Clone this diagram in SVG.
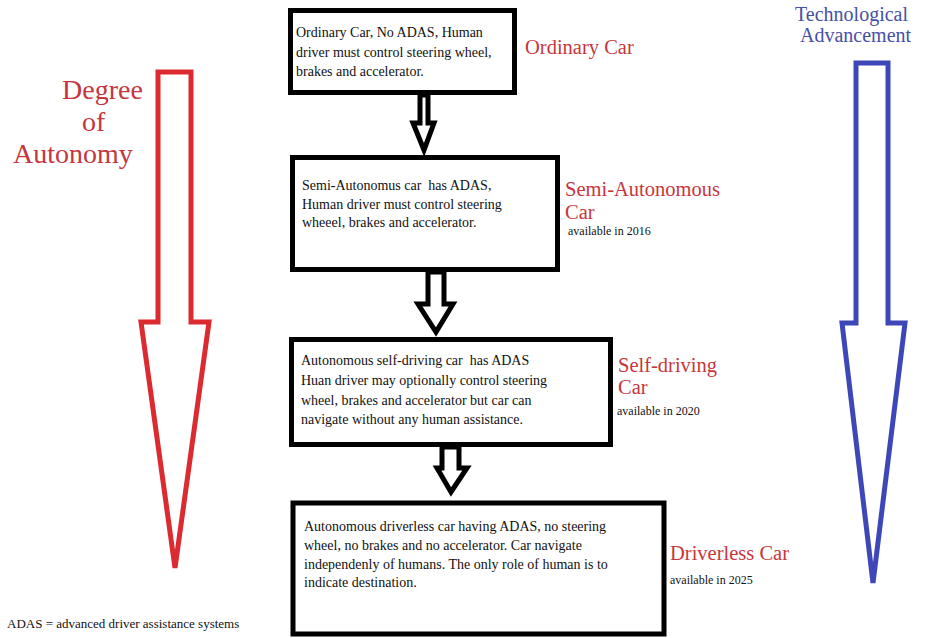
<svg xmlns="http://www.w3.org/2000/svg" width="933" height="638" viewBox="0 0 933 638">
<style>
.box{fill:#fff;stroke:#000;stroke-width:5}
.t{font-family:"Liberation Serif","Times New Roman",serif;font-size:14px;fill:#111}
.lbl{font-family:"Liberation Serif","Times New Roman",serif;font-size:20.5px;fill:#c6363c}
.sm{font-family:"Liberation Serif","Times New Roman",serif;font-size:12px;fill:#111}
.conn{fill:#fff;stroke:#000;stroke-width:5;stroke-linejoin:miter}
</style>
<rect width="933" height="638" fill="#fff"/>
<g id="degree-arrow">
<polygon points="158,72 191,72 191,322 209,322 175,568 141,322 158,322" fill="none" stroke="#dc2a31" stroke-width="5"/>
<text x="62" y="99" font-family="Liberation Serif,serif" font-size="28" fill="#c6363c">Degree</text>
<text x="82" y="131" font-family="Liberation Serif,serif" font-size="28" fill="#c6363c">of</text>
<text x="13" y="163" font-family="Liberation Serif,serif" font-size="28" fill="#c6363c">Autonomy</text>
</g>
<g id="tech-arrow">
<polygon points="856,63 888,63 888,323 905,323 873,583 842,323 856,323" fill="none" stroke="#3d47b8" stroke-width="5"/>
<text x="795" y="21" font-family="Liberation Serif,serif" font-size="20" fill="#4650a6">Technological</text>
<text x="800" y="42" font-family="Liberation Serif,serif" font-size="20" fill="#4650a6">Advancement</text>
</g>
<g id="connectors">
<polygon class="conn" points="420,95 428,95 428,123 434,123 424,150 413,123 420,123"/>
<polygon class="conn" points="428,272 444,272 444,304 453,304 436,332 418,304 428,304"/>
<polygon class="conn" points="442,447 459,447 459,468 467,468 451,492 437,468 442,468"/>
</g>
<g id="ordinary-car">
<rect class="box" x="290.5" y="10.5" width="224" height="82"/>
<text class="t" x="296" y="37">Ordinary Car, No ADAS, Human</text>
<text class="t" x="296" y="56.5">driver must control steering wheel,</text>
<text class="t" x="296" y="76">brakes and accelerator.</text>
<text class="lbl" x="525" y="54">Ordinary Car</text>
</g>
<g id="semi-autonomous-car">
<rect class="box" x="292.5" y="157.5" width="265" height="112"/>
<text class="t" x="302" y="190" xml:space="preserve">Semi-Autonomus car  has ADAS,</text>
<text class="t" x="302" y="208.5">Human driver must control steering</text>
<text class="t" x="302" y="227">wheeel, brakes and accelerator.</text>
<text class="lbl" x="565" y="196">Semi-Autonomous</text>
<text class="lbl" x="565" y="219">Car</text>
<text class="sm" x="568" y="235">available in 2016</text>
</g>
<g id="self-driving-car">
<rect class="box" x="291.5" y="339.5" width="319" height="105"/>
<text class="t" x="301" y="365" xml:space="preserve">Autonomous self-driving car  has ADAS</text>
<text class="t" x="301" y="385">Huan driver may optionally control steering</text>
<text class="t" x="301" y="404.5">wheel, brakes and accelerator but car can</text>
<text class="t" x="301" y="424">navigate without any human assistance.</text>
<text class="lbl" x="618" y="372">Self-driving</text>
<text class="lbl" x="618" y="394">Car</text>
<text class="sm" x="617" y="415">available in 2020</text>
</g>
<g id="driverless-car">
<rect class="box" x="293" y="503" width="371" height="131" stroke-width="6"/>
<text class="t" x="304" y="531">Autonomous driverless car having ADAS, no steering</text>
<text class="t" x="304" y="550">wheel, no brakes and no accelerator. Car navigate</text>
<text class="t" x="304" y="568.5">independenly of humans. The only role of human is to</text>
<text class="t" x="304" y="587">indicate destination.</text>
<text class="lbl" x="670" y="560">Driverless Car</text>
<text class="sm" x="670" y="584">available in 2025</text>
</g>
<g id="footnote">
<text x="7" y="628" font-family="Liberation Serif,serif" font-size="13" fill="#111">ADAS = advanced driver assistance systems</text>
</g>
</svg>
